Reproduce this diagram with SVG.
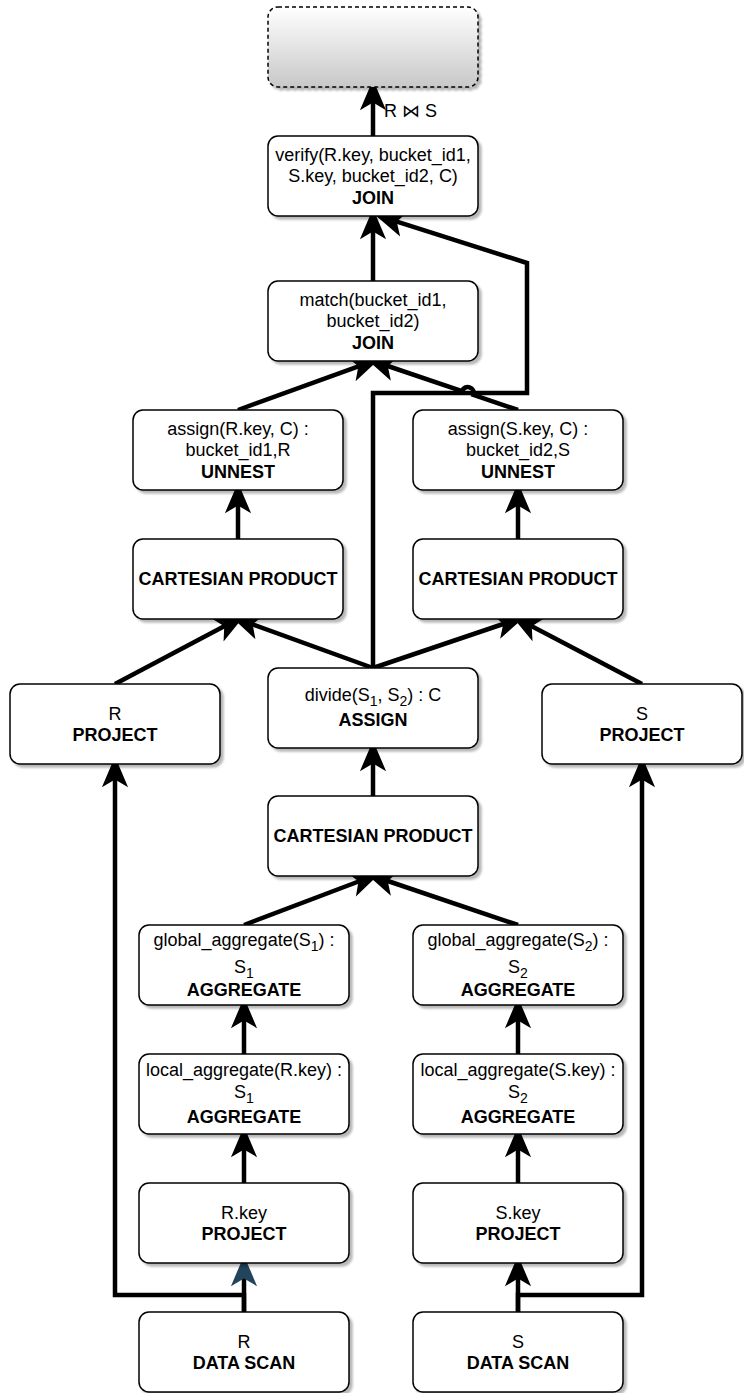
<svg xmlns="http://www.w3.org/2000/svg" width="744" height="1393" viewBox="0 0 744 1393">
<style>
.box{fill:#ffffff;stroke:#000000;stroke-width:1.5;filter:url(#shadow)}
.res{fill:url(#grad);stroke:#000000;stroke-width:1.5;stroke-dasharray:4 3;filter:url(#shadow)}
text{font-family:"Liberation Sans",Arial,Helvetica,sans-serif;font-size:18px;fill:#000000;text-anchor:middle}
.b{font-weight:bold}
.lbl{text-anchor:start;font-family:"Liberation Sans","DejaVu Sans",sans-serif}
.sub{font-size:14px}
.edge{fill:none;stroke:#000000;stroke-width:4.5;stroke-linejoin:miter;marker-end:url(#arr)}
.plain{fill:none;stroke:#000000;stroke-width:4.5;stroke-linejoin:miter}
</style>
<defs>
<linearGradient id="grad" x1="0" y1="0" x2="0" y2="1">
<stop offset="0" stop-color="#ffffff"/>
<stop offset="1" stop-color="#c8c8c8"/>
</linearGradient>
<filter id="shadow" x="-10%" y="-10%" width="130%" height="130%">
<feDropShadow dx="3" dy="3" stdDeviation="1" flood-color="#000000" flood-opacity="0.28"/>
</filter>
<marker id="arr" markerUnits="userSpaceOnUse" markerWidth="40" markerHeight="40" refX="6" refY="0" orient="auto" viewBox="-2 -12 26 24" overflow="visible">
<path d="M20,0 L0,-8.5 L5,0 L0,8.5 Z" fill="#000000"/>
</marker>
<marker id="arrBlue" markerUnits="userSpaceOnUse" markerWidth="40" markerHeight="40" refX="6" refY="0" orient="auto" viewBox="-2 -12 26 24" overflow="visible">
<path d="M20,0 L0,-8.5 L5,0 L0,8.5 Z" fill="#23445D"/>
</marker>
</defs>

<g id="connectors">
<path class="edge" d="M373,136 V101"/>
<path class="edge" d="M373,281 V230"/>
<path class="edge" d="M238,410 L359.8,365.8"/>
<path class="edge" d="M518,410 L473.4,394.9 A6,6 0 0 0 462.0,391.1 L386.3,365.5"/>
<path class="edge" d="M373,668 V393 H527 V263 L395.3,221.2"/>
<path class="edge" d="M238,539 V504"/>
<path class="edge" d="M518,539 V504"/>
<path class="edge" d="M115,684 L225.6,625.5"/>
<path class="edge" d="M373,668 L251.2,623.8"/>
<path class="edge" d="M373,668 L504.7,623.5"/>
<path class="edge" d="M642,684 L530.4,625.5"/>
<path class="edge" d="M373,796 V762"/>
<path class="edge" d="M244,925 L359.9,881.0"/>
<path class="edge" d="M518,925 L386.3,880.5"/>
<path class="edge" d="M244,1054 V1019"/>
<path class="edge" d="M518,1054 V1019"/>
<path class="edge" d="M244,1183 V1148"/>
<path class="edge" d="M518,1183 V1148"/>
<path class="plain" d="M244,1312 V1277" marker-end="url(#arrBlue)"/>
<path class="edge" d="M244,1312 V1295 H115 V778"/>
<path class="edge" d="M518,1312 V1277"/>
<path class="edge" d="M518,1312 V1295 H642 V778"/>
<text class="lbl" x="384" y="117">R ⋈ S</text>
</g>

<g id="result">
<rect class="res" x="268" y="7" width="210" height="80" rx="10"/>
</g>

<g id="verify-join">
<rect class="box" x="268" y="136" width="210" height="80" rx="10"/>
<text x="373" y="160.7">verify(R.key, bucket_id1,</text>
<text x="373" y="182.3">S.key, bucket_id2, C)</text>
<text class="b" x="373" y="203.9">JOIN</text>
</g>

<g id="match-join">
<rect class="box" x="268" y="281" width="210" height="80" rx="10"/>
<text x="373" y="305.7">match(bucket_id1,</text>
<text x="373" y="327.3">bucket_id2)</text>
<text class="b" x="373" y="348.9">JOIN</text>
</g>

<g id="assign-r-unnest">
<rect class="box" x="133" y="410" width="210" height="80" rx="10"/>
<text x="238" y="434.7">assign(R.key, C) :</text>
<text x="238" y="456.3">bucket_id1,R</text>
<text class="b" x="238" y="477.9">UNNEST</text>
</g>

<g id="assign-s-unnest">
<rect class="box" x="413" y="410" width="210" height="80" rx="10"/>
<text x="518" y="434.7">assign(S.key, C) :</text>
<text x="518" y="456.3">bucket_id2,S</text>
<text class="b" x="518" y="477.9">UNNEST</text>
</g>

<g id="cartesian-left">
<rect class="box" x="133" y="539" width="210" height="80" rx="10"/>
<text class="b" x="238" y="585.3">CARTESIAN PRODUCT</text>
</g>

<g id="cartesian-right">
<rect class="box" x="413" y="539" width="210" height="80" rx="10"/>
<text class="b" x="518" y="585.3">CARTESIAN PRODUCT</text>
</g>

<g id="r-project">
<rect class="box" x="10" y="684" width="210" height="80" rx="10"/>
<text x="115" y="719.5">R</text>
<text class="b" x="115" y="741.1">PROJECT</text>
</g>

<g id="divide-assign">
<rect class="box" x="268" y="668" width="210" height="80" rx="10"/>
<text x="373" y="701">divide(S<tspan class="sub" dy="5">1</tspan><tspan dy="-5">, S</tspan><tspan class="sub" dy="5">2</tspan><tspan dy="-5">) : C</tspan></text>
<text class="b" x="373" y="726">ASSIGN</text>
</g>

<g id="s-project">
<rect class="box" x="542" y="684" width="200" height="80" rx="10"/>
<text x="642" y="719.5">S</text>
<text class="b" x="642" y="741.1">PROJECT</text>
</g>

<g id="cartesian-mid">
<rect class="box" x="268" y="796" width="210" height="80" rx="10"/>
<text class="b" x="373" y="842.3">CARTESIAN PRODUCT</text>
</g>

<g id="global-agg-s1">
<rect class="box" x="139" y="925" width="210" height="80" rx="10"/>
<text x="244" y="946">global_aggregate(S<tspan class="sub" dy="5">1</tspan><tspan dy="-5">) :</tspan></text>
<text x="244" y="973">S<tspan class="sub" dy="5">1</tspan></text>
<text class="b" x="244" y="996">AGGREGATE</text>
</g>

<g id="global-agg-s2">
<rect class="box" x="413" y="925" width="210" height="80" rx="10"/>
<text x="518" y="946">global_aggregate(S<tspan class="sub" dy="5">2</tspan><tspan dy="-5">) :</tspan></text>
<text x="518" y="973">S<tspan class="sub" dy="5">2</tspan></text>
<text class="b" x="518" y="996">AGGREGATE</text>
</g>

<g id="local-agg-r">
<rect class="box" x="139" y="1054" width="210" height="80" rx="10"/>
<text x="244" y="1076">local_aggregate(R.key) :</text>
<text x="244" y="1098">S<tspan class="sub" dy="5">1</tspan></text>
<text class="b" x="244" y="1123">AGGREGATE</text>
</g>

<g id="local-agg-s">
<rect class="box" x="413" y="1054" width="210" height="80" rx="10"/>
<text x="518" y="1076">local_aggregate(S.key) :</text>
<text x="518" y="1098">S<tspan class="sub" dy="5">2</tspan></text>
<text class="b" x="518" y="1123">AGGREGATE</text>
</g>

<g id="rkey-project">
<rect class="box" x="139" y="1183" width="210" height="80" rx="10"/>
<text x="244" y="1218.5">R.key</text>
<text class="b" x="244" y="1240.1">PROJECT</text>
</g>

<g id="skey-project">
<rect class="box" x="413" y="1183" width="210" height="80" rx="10"/>
<text x="518" y="1218.5">S.key</text>
<text class="b" x="518" y="1240.1">PROJECT</text>
</g>

<g id="r-data-scan">
<rect class="box" x="139" y="1312" width="210" height="80" rx="10"/>
<text x="244" y="1347.5">R</text>
<text class="b" x="244" y="1369.1">DATA SCAN</text>
</g>

<g id="s-data-scan">
<rect class="box" x="413" y="1312" width="210" height="80" rx="10"/>
<text x="518" y="1347.5">S</text>
<text class="b" x="518" y="1369.1">DATA SCAN</text>
</g>
</svg>
